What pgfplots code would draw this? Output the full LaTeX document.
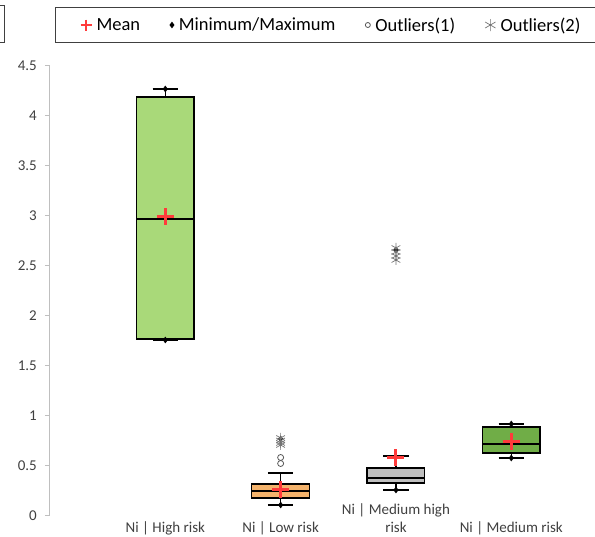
\documentclass[border=0pt]{standalone}
\usepackage{fontspec}
\setmainfont{Carlito}
\usepackage{pgfplots}
\pgfplotsset{compat=1.18}
\usepgfplotslibrary{statistics}
\definecolor{hr}{HTML}{A9D979}
\definecolor{lr}{HTML}{F4B36C}
\definecolor{mh}{HTML}{BFBFBF}
\definecolor{mr}{HTML}{70AD47}
\definecolor{meanred}{HTML}{FF3B3B}
\definecolor{axgray}{HTML}{BFBFBF}
\definecolor{txt}{HTML}{404040}
\begin{document}
\begin{tikzpicture}[x=1pt,y=1pt]
\path[use as bounding box] (0,0) rectangle (595,537);
\draw[line width=1pt, black!75] (-5,531) -- (4,531) -- (4,494) -- (-5,494);
\begin{axis}[
  at={(50pt,21pt)}, anchor=south west,
  scale only axis, width=542pt, height=450pt,
  xmin=0, xmax=4.7, ymin=0, ymax=4.5,
  axis x line*=bottom, axis y line*=left,
  axis line style={-},
  x axis line style={draw=none},
  y axis line style={axgray, line width=1pt},
  xtick={1,2,3,4},
  xticklabels={Ni | High risk, Ni | Low risk, {Ni | Medium high\\risk}, Ni | Medium risk},
  xtick style={draw=none},
  ytick={0,0.5,...,4.5},
  ytick style={axgray, line width=1pt},
  tick align=outside, major tick length=5pt,
  /pgf/number format/assume math mode=true,
  yticklabel style={font=\fontsize{15}{18}\selectfont, text=txt, anchor=east, inner sep=0pt, xshift=-8pt},
  xticklabel style={font=\fontsize{15}{18}\selectfont, text=txt, align=center, anchor=south, inner sep=0pt, yshift=-17.4pt, execute at end node=\strut},
  clip=false,
  boxplot/draw direction=y,
  legend style={at={(0.00923,1.1311)}, anchor=north west, draw=black!75, line width=1pt,
    font=\fontsize{18.5}{22}\selectfont, inner xsep=25pt, inner ysep=8pt},
  legend columns=-1,
  legend image code/.code={\draw[#1] plot coordinates {(0pt,0pt)};},
  /tikz/every odd column/.append style={column sep=3pt},
  /tikz/every even column/.append style={column sep=28pt},
]
\addplot[forget plot, boxplot prepared={draw position=1, lower whisker=1.76, lower quartile=1.77, median=2.97, upper quartile=4.19, upper whisker=4.27, box extend=0.5, whisker extend=0.22}, draw=black, fill=hr, line width=1.3pt] coordinates {};
\addplot[forget plot, boxplot prepared={draw position=2, lower whisker=0.11, lower quartile=0.18, median=0.25, upper quartile=0.32, upper whisker=0.43, box extend=0.5, whisker extend=0.22}, draw=black, fill=lr, line width=1.3pt] coordinates {};
\addplot[forget plot, boxplot prepared={draw position=3, lower whisker=0.26, lower quartile=0.33, median=0.38, upper quartile=0.48, upper whisker=0.60, box extend=0.5, whisker extend=0.22}, draw=black, fill=mh, line width=1.3pt] coordinates {};
\addplot[forget plot, boxplot prepared={draw position=4, lower whisker=0.58, lower quartile=0.63, median=0.72, upper quartile=0.89, upper whisker=0.92, box extend=0.5, whisker extend=0.22}, draw=black, fill=mr, line width=1.3pt] coordinates {};
\addplot[only marks, mark=+, mark size=8.5pt, meanred, line width=3pt, legend image post style={mark size=5.5pt, line width=2.5pt}] coordinates {(1,2.99) (2,0.26) (3,0.58) (4,0.74)};
\addlegendentry{Mean}
\addplot[only marks, mark=diamond*, mark size=3pt, black, legend image post style={mark size=2.5pt}] coordinates {(1,1.76) (1,4.27) (2,0.11) (2,0.77) (3,0.26) (3,2.66) (4,0.58) (4,0.92)};
\addlegendentry{Minimum/Maximum}
\addplot[only marks, mark=o, mark size=3pt, black!65, line width=0.8pt, legend image post style={mark size=2.5pt}] coordinates {(2,0.585) (2,0.525)};
\addlegendentry{Outliers(1)}
\addplot[only marks, mark=asterisk, mark size=5pt, black!55, line width=0.7pt, legend image post style={mark size=6pt}] coordinates {(2,0.78) (2,0.755) (2,0.73) (2,0.71) (3,2.68) (3,2.64) (3,2.60) (3,2.56)};
\addlegendentry{Outliers(2)}
\end{axis}
\end{tikzpicture}
\end{document}
